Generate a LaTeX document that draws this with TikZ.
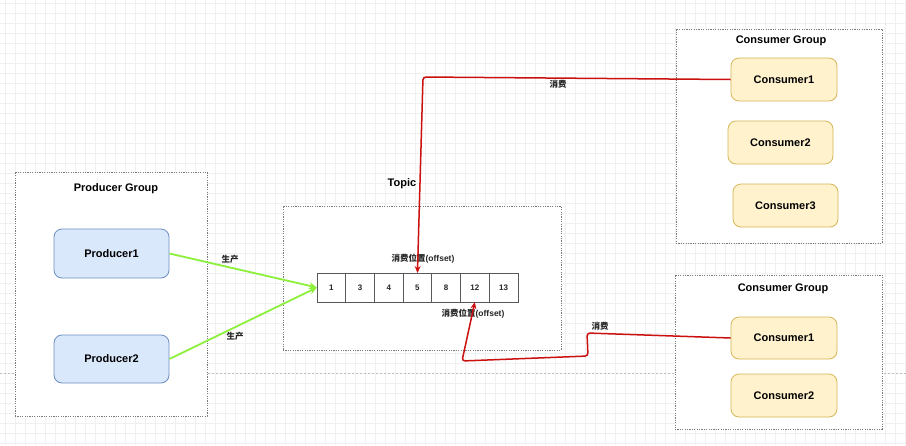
\documentclass[tikz,border=0pt]{standalone}
\usepackage{fontspec}
\setmainfont{Liberation Sans}
\newfontfamily\cjk{Noto Sans CJK SC}
\usetikzlibrary{arrows.meta}
\definecolor{gridc}{HTML}{F0F0F0}
\definecolor{pfill}{HTML}{DAE8FC}
\definecolor{pdraw}{HTML}{6C8EBF}
\definecolor{cfill}{HTML}{FFF2CC}
\definecolor{cdraw}{HTML}{D6B656}
\definecolor{gline}{HTML}{8CF03C}
\definecolor{rline}{HTML}{CC1010}
\definecolor{grpc}{HTML}{7A7A7A}
\tikzset{
  grp/.style={draw=grpc, fill=white, line width=0.8pt, dash pattern=on 1.2pt off 1.2pt, inner sep=0pt, outer sep=0pt},
  title/.style={font=\bfseries\fontsize{11}{13}\selectfont, text=black},
  prod/.style={draw=pdraw, fill=pfill, rounded corners=8pt, line width=0.8pt, font=\bfseries\fontsize{11}{13}\selectfont},
  cons/.style={draw=cdraw, fill=cfill, rounded corners=8pt, line width=0.8pt, font=\bfseries\fontsize{11}{13}\selectfont},
  cell/.style={draw=black!65, fill=white, line width=0.8pt, minimum width=28.7pt, minimum height=29pt, inner sep=0pt, outer sep=0pt, font=\bfseries\fontsize{8}{10}\selectfont, text=black!85},
  lbl/.style={font=\bfseries\fontsize{8.5}{10}\selectfont, inner sep=1pt, text=black!85},
  prodarrow/.style={draw=gline, line width=1.8pt, -{Stealth[length=8pt,width=7pt]}},
  consarrow/.style={draw=rline, line width=1.5pt, rounded corners=3pt, -{Stealth[length=7pt,width=6pt]}},
  pagebreak/.style={draw=black!25, line width=0.8pt, dash pattern=on 2pt off 2pt}
}
\begin{document}
\begin{tikzpicture}[x=1pt,y=-1pt]
\useasboundingbox (0,0) rectangle (906,445);
\fill[white] (0,0) rectangle (906,445);
\foreach \i in {5,15,...,905} \draw[gridc, line width=0.6pt] (\i,0) -- (\i,445);
\foreach \j in {3,13,...,443} \draw[gridc, line width=0.6pt] (0,\j) -- (906,\j);
\draw[pagebreak] (0,373) -- (906,373);

% groups
\node[grp, minimum width=192pt, minimum height=244pt] (pg) at (111,294) {};
\node[title] (pgt) at (116,189) {Producer Group};
\node[grp, minimum width=278pt, minimum height=144pt] (tg) at (422,278) {};
\node[title] (tgt) at (402,184) {Topic};
\node[grp, minimum width=206pt, minimum height=214pt] (cga) at (779,136) {};
\node[title] (cgat) at (781,41) {Consumer Group};
\node[grp, minimum width=207pt, minimum height=154pt] (cgb) at (778.5,352) {};
\node[title] (cgbt) at (783,289) {Consumer Group};

% producers
\node[prod, minimum width=115pt, minimum height=49pt] (p1) at (111.5,253.5) {Producer1};
\node[prod, minimum width=115pt, minimum height=48pt] (p2) at (111.5,359) {Producer2};

% consumers
\node[cons, minimum width=106pt, minimum height=43pt] (ca1) at (784,79.5) {Consumer1};
\node[cons, minimum width=105pt, minimum height=43pt] (ca2) at (780.5,142.5) {Consumer2};
\node[cons, minimum width=105pt, minimum height=43pt] (ca3) at (785.5,205.5) {Consumer3};
\node[cons, minimum width=106pt, minimum height=42pt] (cb1) at (784,338) {Consumer1};
\node[cons, minimum width=106pt, minimum height=43pt] (cb2) at (784,395.5) {Consumer2};

% cells
\foreach \v [count=\i] in {1,3,4,5,8,12,13}
  \node[cell] (c\i) at ({317+28.7*(\i-0.5)},287.5) {\v};

% labels
\node[lbl] (off1) at (423,259) {{\cjk 消费位置}(offset)};
\node[lbl] (off2) at (473,314) {{\cjk 消费位置}(offset)};
\node[lbl] (sc1) at (230,259) {\cjk 生产};
\node[lbl] (sc2) at (235,336) {\cjk 生产};
\node[lbl] (xf1) at (558,84) {\cjk 消费};
\node[lbl] (xf2) at (600,326) {\cjk 消费};

% connectors
\draw[prodarrow] (p1.east) -- (c1.west);
\draw[prodarrow] (p2.east) -- (c1.west);
\coordinate (k1) at (423,77);
\draw[consarrow] (ca1.west) -- (k1) -- (c4.north);
\coordinate (k2) at (587,333);
\coordinate (k3) at (588,356);
\coordinate (k4) at (462,361);
\draw[consarrow] (cb1.west) -- (k2) -- (k3) -- (k4) -- (c6.south);
\end{tikzpicture}
\end{document}
